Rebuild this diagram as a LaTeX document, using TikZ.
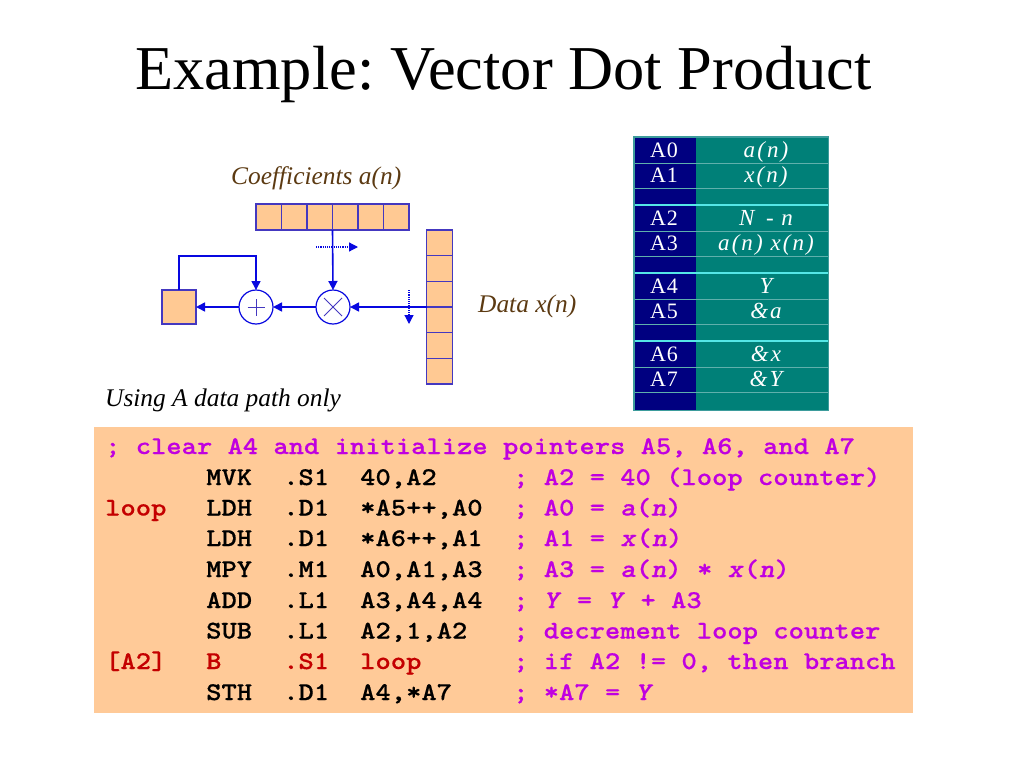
\documentclass[tikz,border=0pt]{standalone}
\usepackage{fontspec}
\setmainfont{Liberation Serif}
\setmonofont[FakeStretch=1.143,FakeBold=0.5]{Latin Modern Mono Light}
\newfontfamily\tabfont[LetterSpace=3]{Liberation Serif}
\newfontfamily\tabfontv[LetterSpace=9]{Liberation Serif}
\usetikzlibrary{arrows.meta}
\definecolor{cellfill}{HTML}{FFC993}
\definecolor{cellline}{HTML}{4438C0}
\definecolor{wire}{HTML}{0808E0}
\definecolor{codebg}{HTML}{FFCA98}
\definecolor{cmt}{HTML}{C000E0}
\definecolor{redc}{HTML}{C40000}
\definecolor{brownc}{HTML}{5C3A12}
\definecolor{navyc}{HTML}{000080}
\definecolor{tealc}{HTML}{008078}
\definecolor{thinl}{HTML}{5FB0AC}
\definecolor{brightl}{HTML}{55E6E6}
\definecolor{edgec}{HTML}{3D9C9C}
\tikzset{
  cell/.style={draw=cellline,fill=cellfill,line width=1.1pt,inner sep=0pt,outer sep=0pt},
  hcell/.style={cell,minimum width=25.5pt,minimum height=26pt},
  vcell/.style={cell,minimum width=25.5pt,minimum height=25.67pt},
  op/.style={circle,draw=wire,fill=white,line width=1.2pt,minimum size=34pt,inner sep=0pt,outer sep=0pt},
  glyph/.style={draw=cellline,line width=0.9pt},
  wirel/.style={draw=wire,line width=1.6pt,-{Triangle[length=9pt,width=9pt]}},
  dotw/.style={draw=wire,line width=1.2pt,densely dotted,-{Triangle[length=9pt,width=9pt]}},
  lab/.style={font=\itshape\fontsize{25.4}{25.4}\selectfont,anchor=base west,inner sep=0pt},
  code/.style={font=\ttfamily\bfseries\fontsize{25.5}{25.5}\selectfont,anchor=base west,inner sep=0pt},
  codeb/.style={code,text=black},
  coder/.style={code,text=redc},
  codec/.style={code,text=cmt},
  regn/.style={font=\tabfont\fontsize{22}{22}\selectfont,text=white,anchor=base,inner sep=0pt},
  regv/.style={font=\tabfontv\itshape\fontsize{23}{23}\selectfont,text=white,anchor=base,inner sep=0pt},
  thinr/.style={draw=thinl,line width=0.8pt},
  boldr/.style={draw=brightl,line width=1.6pt},
}
\newcommand{\codeline}[8]{%
  \node[#3] (#1a) at (105,#2) {#4};
  \node[#3] (#1b) at (206,#2) {#5};
  \node[#3] (#1c) at (283,#2) {#6};
  \node[#3] (#1d) at (360,#2) {#7};
  \node[codec] (#1e) at (513,#2) {#8};
}
\begin{document}
\frenchspacing
\begin{tikzpicture}[x=1pt,y=-1pt]
\useasboundingbox (0,0) rectangle (1024,768);
\fill[white] (0,0) rectangle (1024,768);

\node[font=\fontsize{62.4}{62.4}\selectfont,anchor=base,inner sep=0pt] (title) at (503.5,89) {Example: Vector Dot Product};

% table
\node[fill=navyc,draw=none,anchor=north west,minimum width=62pt,minimum height=273pt,inner sep=0pt] (tl) at (634,137) {};
\node[fill=tealc,draw=none,anchor=north west,minimum width=132pt,minimum height=273pt,inner sep=0pt] (tr) at (696,137) {};
\foreach \yy in {163,188,231,256,299,324,367,392}{\draw[thinr] (634,\yy) -- (828,\yy);}
\foreach \yy in {205,273,341}{\draw[boldr] (634,\yy) -- (828,\yy);}
\draw[draw=edgec,line width=1.6pt] (tl.north west) rectangle (tr.south east);
\node[regn] (r0) at (664,157) {A0}; \node[regv] (v0) at (766,157) {a(n)};
\node[regn] (r1) at (664,182) {A1}; \node[regv] (v1) at (766,182) {x(n)};
\node[regn] (r2) at (664,225) {A2}; \node[regv] (v2) at (766,225) {N\, - n};
\node[regn] (r3) at (664,250) {A3}; \node[regv] (v3x) at (766,250) {a(n) x(n)};
\node[regn] (r4) at (664,293) {A4}; \node[regv] (v4) at (766,293) {Y};
\node[regn] (r5) at (664,318) {A5}; \node[regv] (v5) at (766,318) {\&a};
\node[regn] (r6) at (664,361) {A6}; \node[regv] (v6) at (766,361) {\&x};
\node[regn] (r7) at (664,386) {A7}; \node[regv] (v7) at (766,386) {\&Y};

% labels
\node[lab,text=brownc] (coef) at (231,184) {Coefficients a(n)};
\node[lab,text=brownc] (data) at (478,312) {Data x(n)};
\node[lab,text=black] (using) at (105,406) {Using A data path only};

% coefficient array
\foreach \i in {1,...,6}{
  \node[hcell] (c\i) at ({256+25.5*(\i-0.5)},217) {};
}
% data array
\foreach \i in {1,...,6}{
  \node[vcell] (d\i) at (439.5,{230+25.67*(\i-0.5)}) {};
}
% accumulator, operators
\node[cell,minimum width=34pt,minimum height=34pt] (acc) at (179,307) {};
\node[op] (add) at (256,307) {};
\node[op] (mul) at (333,307) {};
\draw[glyph] ([xshift=-8.5pt]add.center) -- ([xshift=8.5pt]add.center);
\draw[glyph] ([yshift=-8.5pt]add.center) -- ([yshift=8.5pt]add.center);
\draw[glyph] ([shift={(-9pt,-9pt)}]mul.center) -- ([shift={(9pt,9pt)}]mul.center);
\draw[glyph] ([shift={(-9pt,9pt)}]mul.center) -- ([shift={(9pt,-9pt)}]mul.center);

% connectors
\coordinate (fb) at (256,256);
\draw[wirel] (d3.south west) -- (mul.east);
\draw[wirel] (c3.south east) -- (mul.north);
\draw[wirel] (mul.west) -- (add.east);
\draw[wirel] (add.west) -- (acc.east);
\draw[wirel] (acc.north) |- (fb) -- (add.north);
\coordinate (h1) at (316,247); \coordinate (h2) at (358,247);
\coordinate (v1a) at (409,290); \coordinate (v2a) at (409,324);
\draw[dotw] (h1) -- (h2);
\draw[dotw] (v1a) -- (v2a);

% code
\node[fill=codebg,anchor=north west,minimum width=819pt,minimum height=286pt,inner sep=0pt] (bg) at (94,427) {};
\node[codec] (hdr) at (105,454) {; clear A4 and initialize pointers A5, A6, and A7};
\codeline{la}{485}{codeb}{}{MVK}{.S1}{40,A2}{; A2 = 40 (loop counter)}
\node[coder] (lba) at (105,515.5) {loop};
\node[codeb] (lbb) at (206,515.5) {LDH};
\node[codeb] (lbc) at (283,515.5) {.D1};
\node[codeb] (lbd) at (360,515.5) {*A5++,A0};
\node[codec] (lbe) at (513,515.5) {; A0 = \textit{a}(\textit{n})};
\codeline{lc}{546}{codeb}{}{LDH}{.D1}{*A6++,A1}{; A1 = \textit{x}(\textit{n})}
\codeline{ld}{577}{codeb}{}{MPY}{.M1}{A0,A1,A3}{; A3 = \textit{a}(\textit{n}) * \textit{x}(\textit{n})}
\codeline{le}{608}{codeb}{}{ADD}{.L1}{A3,A4,A4}{; \textit{Y} = \textit{Y} + A3}
\codeline{lf}{638.5}{codeb}{}{SUB}{.L1}{A2,1,A2}{; decrement loop counter}
\codeline{lg}{669}{coder}{[A2]}{B}{.S1}{loop}{; if A2 != 0, then branch}
\codeline{lh}{700}{codeb}{}{STH}{.D1}{A4,*A7}{; *A7 = \textit{Y}}
\end{tikzpicture}
\end{document}
